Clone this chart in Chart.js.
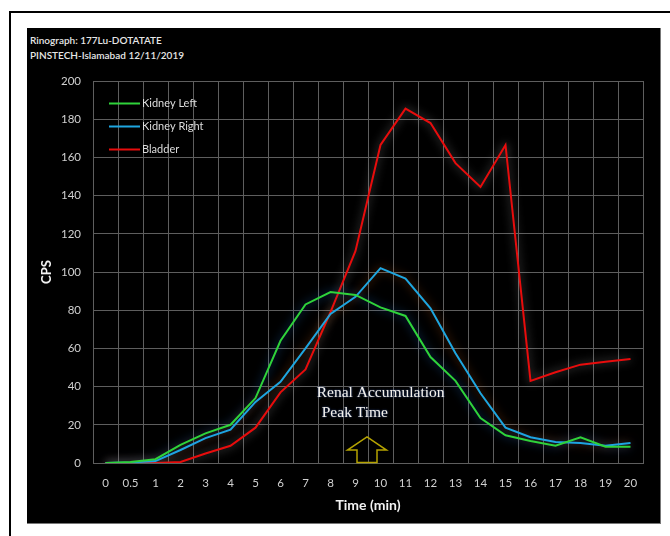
<!DOCTYPE html>
<html>
<head>
<meta charset="utf-8">
<script src="https://cdn.jsdelivr.net/npm/chart.js@4.4.1/dist/chart.umd.min.js"></script>
<style>
body{margin:0;background:#fff;width:670px;height:536px;position:relative;overflow:hidden;font-family:Lato,sans-serif}
#marco{position:absolute;left:9px;top:11px;width:700px;height:600px;border-left:2px solid #000;border-top:2px solid #000}
#fondo{position:absolute;left:27px;top:28px;width:633px;height:495px;background:#000;border-right:1px solid #777;border-bottom:1px solid #777}
#cabecera{position:absolute;left:3px;top:5px;color:#e6e6e6;font-size:10px;line-height:15px;font-weight:600}
canvas{position:absolute;left:0;top:0}
</style>
</head>
<body>
<div id="marco"></div>
<div id="fondo">
  <div id="cabecera">Rinograph: 177Lu-DOTATATE<br>PINSTECH-Islamabad 12/11/2019</div>
  <canvas id="grafica" width="633" height="495"></canvas>
</div>
<script>
const $grafica = document.querySelector("#grafica");

const tiempos = ['0','0.5','1','2','3','4','5','6','7','8','9','10',
    '11','12','13','14','15','16','17','18','19','20'];

const rinonIzq = [0, 0.5, 2, 9.5, 15.5, 20, 34, 64, 83, 89.5, 88, 81.5,
    77, 55.5, 43, 23.5, 14.5, 11.5, 9, 13.5, 8.5, 8.5];
const rinonDer = [0, 0.3, 1, 6.8, 13, 17.5, 32, 42.5, 60, 78, 87, 102,
    96.5, 81, 57.5, 36.5, 18.5, 13.5, 11, 10.5, 9, 10.5];
const vejiga = [0, 0, 0, 0.5, 5, 9, 18.5, 37, 49, 79, 111, 166.5,
    185.5, 178, 157, 144.5, 166.5, 43, 47.5, 51.5, 53, 54.5];

const marcasY = [0, 20, 40, 60, 80, 100, 120, 140, 160, 180, 200];

const brillos = ['rgba(40,140,255,0.55)', 'rgba(255,120,30,0.5)', 'rgba(220,220,220,0.5)'];

// resplandor alrededor de cada linea
const resplandor = {
    id: 'resplandor',
    beforeDatasetDraw(chart, args) {
        const ctx = chart.ctx;
        ctx.save();
        ctx.shadowColor = brillos[args.index];
        ctx.shadowBlur = 10;
    },
    afterDatasetDraw(chart) {
        chart.ctx.restore();
    }
};

// leyenda dentro del area y la nota de la flecha
const extras = {
    id: 'extras',
    afterDatasetsDraw(chart) {
        const ctx = chart.ctx;
        const area = chart.chartArea;
        const xs = chart.scales.x, ys = chart.scales.y;

        ctx.save();
        ctx.font = '11px Lato, sans-serif';
        ctx.textBaseline = 'middle';
        chart.data.datasets.forEach((ds, i) => {
            const y = area.top + 22.5 + i * 23;
            ctx.strokeStyle = ds.borderColor;
            ctx.lineWidth = 2;
            ctx.beginPath();
            ctx.moveTo(area.left + 16, y);
            ctx.lineTo(area.left + 47, y);
            ctx.stroke();
            ctx.fillStyle = '#dcdcdc';
            ctx.fillText(ds.label, area.left + 49, y);
        });

        const x0 = xs.getPixelForValue(0);
        const paso = xs.getPixelForValue(1) - x0;
        const px = i => x0 + i * paso;

        ctx.font = '15.5px "Liberation Serif", serif';
        ctx.fillStyle = '#f4f1ea';
        ctx.shadowColor = 'rgba(90,140,255,0.6)';
        ctx.shadowBlur = 2;
        ctx.fillText('Renal Accumulation', px(8.45), ys.getPixelForValue(36.5));
        ctx.fillText('Peak Time', px(8.65), ys.getPixelForValue(26));
        ctx.shadowBlur = 0;

        const c = px(10.46);
        const punta = ys.getPixelForValue(13.7);
        const base = ys.getPixelForValue(6.8);
        const suelo = ys.getPixelForValue(0) - 0.5;
        const ala = paso * 0.78, tallo = paso * 0.4;
        ctx.strokeStyle = '#b5a300';
        ctx.lineWidth = 1.5;
        ctx.beginPath();
        ctx.moveTo(c, punta);
        ctx.lineTo(c + ala, base);
        ctx.lineTo(c + tallo, base);
        ctx.lineTo(c + tallo, suelo);
        ctx.lineTo(c - tallo, suelo);
        ctx.lineTo(c - tallo, base);
        ctx.lineTo(c - ala, base);
        ctx.closePath();
        ctx.stroke();
        ctx.restore();
    }
};

const serie = (label, data, color) => ({
    label: label,
    data: data,
    borderColor: color,
    backgroundColor: color,
    borderWidth: 2,
    pointRadius: 0,
    tension: 0,
    fill: false,
});

new Chart($grafica, {
    type: 'line',
    data: {
        labels: tiempos,
        datasets: [
            serie('Kidney Left', rinonIzq, '#2fd33a'),
            serie('Kidney Right', rinonDer, '#1ea6e0'),
            serie('Bladder', vejiga, '#e80c0c'),
        ],
    },
    options: {
        responsive: false,
        animation: false,
        devicePixelRatio: 1,
        layout: { padding: { top: 53, right: 17, left: 0, bottom: 0 } },
        plugins: {
            legend: { display: false },
            tooltip: { enabled: false },
        },
        scales: {
            x: {
                type: 'category',
                offset: true,
                afterFit: s => { s.height = 60; },
                grid: { color: '#5e5e5e', offset: true, drawTicks: false },
                border: { color: '#5e5e5e' },
                ticks: { color: '#d0d0d0', font: { family: 'Lato', size: 11.5 }, padding: 13, maxRotation: 0, autoSkip: false },
                title: {
                    display: true,
                    text: 'Time (min)',
                    color: '#f2f2f2',
                    font: { family: 'Lato', size: 14, weight: 'bold' },
                    padding: { top: 0, bottom: 9 }
                }
            },
            y: {
                min: 0,
                max: 200,
                afterFit: s => { s.width = 66; },
                afterBuildTicks: s => { s.ticks = marcasY.map(v => ({ value: v })); },
                grid: { color: '#5e5e5e', drawTicks: false },
                border: { color: '#5e5e5e' },
                ticks: { color: '#d0d0d0', font: { family: 'Lato', size: 11.5 }, padding: 12 },
                title: {
                    display: true,
                    text: 'CPS',
                    color: '#f2f2f2',
                    font: { family: 'Lato', size: 13, weight: 'bold' },
                    padding: { top: 12, bottom: 0 }
                }
            },
        },
    },
    plugins: [resplandor, extras]
});
</script>
</body>
</html>
